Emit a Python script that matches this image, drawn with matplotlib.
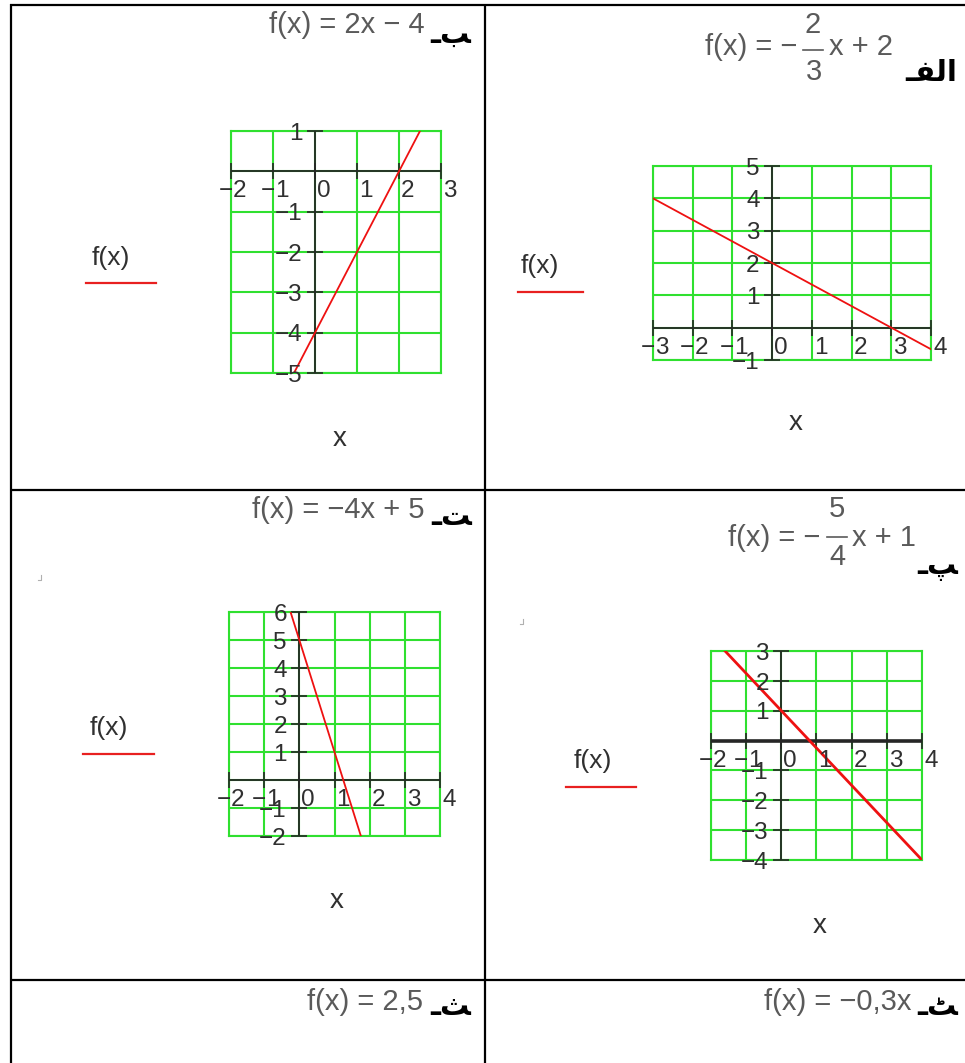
import matplotlib.pyplot as plt

plt.rcParams['font.family'] = ['Liberation Sans', 'DejaVu Sans']

W, H = 965, 1063
GREEN = '#2fe02f'
AXC = '#262626'
TXT = '#303030'
GRAY = '#5a5a5a'

# panel "alef": f(x) = -2/3 x + 2
alef_x = [-3, 4]
alef_y = [4, -0.667]
alef_xlim = (-3, 4)
alef_ylim = (-1, 5)
alef_xlabels = [-3, -2, -1, 0, 1, 2, 3, 4]
alef_ylabels = [5, 4, 3, 2, 1, -1]

# panel "be": f(x) = 2x - 4
be_x = [-0.5, 2.5]
be_y = [-5, 1]
be_xlim = (-2, 3)
be_ylim = (-5, 1)
be_xlabels = [-2, -1, 0, 1, 2, 3]
be_ylabels = [1, -1, -2, -3, -4, -5]

# panel "pe": f(x) = -5/4 x + 1
pe_x = [-1.6, 4]
pe_y = [3, -4]
pe_xlim = (-2, 4)
pe_ylim = (-4, 3)
pe_xlabels = [-2, -1, 0, 1, 2, 3, 4]
pe_ylabels = [3, 2, 1, -1, -2, -3, -4]

# panel "te": f(x) = -4x + 5
te_x = [-0.25, 1.75]
te_y = [6, -2]
te_xlim = (-2, 4)
te_ylim = (-2, 6)
te_xlabels = [-2, -1, 0, 1, 2, 3, 4]
te_ylabels = [6, 5, 4, 3, 2, 1, -1, -2]

fig = plt.figure(figsize=(W / 100, H / 100), dpi=100)
bg = fig.add_axes([0, 0, 1, 1])
bg.set_xlim(0, W)
bg.set_ylim(H, 0)
bg.axis('off')

# table borders
tk = dict(color='black', lw=1.6, solid_capstyle='butt')
bg.plot([10, 965], [4.5, 4.5], **tk)
bg.plot([10.5, 10.5], [4, 1063], **tk)
bg.plot([484.5, 484.5], [4, 1063], **tk)
bg.plot([10, 965], [489.5, 489.5], **tk)
bg.plot([10, 965], [979.5, 979.5], **tk)

# little stray corner marks
for cx, cy in [(41, 580), (523, 624)]:
    bg.plot([cx - 3, cx, cx], [cy, cy, cy - 5], color='#b0b0b0', lw=0.8)


def minus(v):
    return str(v).replace('-', '\u2212')


def panel(box, xs, ys, xlim, ylim, xlabels, ylabels, axis_lw=1.3, line_lw=1.3):
    l, t, r, b = box
    ax = fig.add_axes([l / W, 1 - b / H, (r - l) / W, (b - t) / H])
    ax.set_xlim(*xlim)
    ax.set_ylim(*ylim)
    ax.set_xticks(range(xlim[0], xlim[1] + 1))
    ax.set_yticks(range(ylim[0], ylim[1] + 1))
    ax.grid(True, color=GREEN, lw=1.5)
    ax.tick_params(length=0, labelbottom=False, labelleft=False)
    for s in ax.spines.values():
        s.set_color(GREEN)
        s.set_linewidth(1.5)
    ax.set_facecolor('none')
    ax.axhline(0, color=AXC, lw=axis_lw, zorder=3)
    ax.axvline(0, color=AXC, lw=1.3, zorder=3)
    ax.plot(xlabels, [0] * len(xlabels), ls='none', marker='|', ms=11,
            mew=1.2, color=AXC, clip_on=False, zorder=3)
    ax.plot([0] * len(ylabels), ylabels, ls='none', marker='_', ms=11,
            mew=1.2, color=AXC, clip_on=False, zorder=3)
    ax.plot(xs, ys, color='#ee1111', lw=line_lw, zorder=4)
    fs = 17.5
    for v in xlabels:
        ax.annotate(str(abs(v)), (v, 0), xytext=(1.5, -6.5), textcoords='offset points',
                    ha='left', va='top', fontsize=fs, color=TXT,
                    annotation_clip=False, zorder=5)
        if v < 0:
            ax.annotate('\u2212', (v, 0), xytext=(1.2, -6.5), textcoords='offset points',
                        ha='right', va='top', fontsize=fs, color=TXT,
                        annotation_clip=False, zorder=5)
    for v in ylabels:
        ax.annotate(minus(v), (0, v), xytext=(-9, -2), textcoords='offset points',
                    ha='right', va='center', fontsize=fs, color=TXT,
                    annotation_clip=False, zorder=5)
    return ax


panel((231, 131, 441, 373), be_x, be_y, be_xlim, be_ylim, be_xlabels, be_ylabels)
panel((653, 166, 931, 360), alef_x, alef_y, alef_xlim, alef_ylim, alef_xlabels, alef_ylabels)
panel((229, 612, 440, 836), te_x, te_y, te_xlim, te_ylim, te_xlabels, te_ylabels)
panel((711, 651, 922, 860), pe_x, pe_y, pe_xlim, pe_ylim, pe_xlabels, pe_ylabels,
      axis_lw=2.6, line_lw=2.0)

# legends and x labels
for tx, ty, lx0, lx1, ly in [(111, 258, 86, 156, 283), (540, 266, 518, 583, 292),
                             (109, 728, 83, 154, 754), (593, 761, 566, 636, 787)]:
    bg.text(tx, ty, 'f(x)', fontsize=19, color=TXT, ha='center', va='center')
    bg.plot([lx0, lx1], [ly, ly], color='#e82020', lw=1.6)

for xx, xy in [(340, 439), (796, 423), (337, 901), (820, 926)]:
    bg.text(xx, xy, 'x', fontsize=20, color=TXT, ha='center', va='center')

# titles
tf = dict(fontsize=21, color=GRAY, va='center')
bg.text(425, 25, 'f(x) = 2x \u2212 4', ha='right', **tf)
bg.text(425, 510, 'f(x) = \u22124x + 5', ha='right', **tf)
bg.text(423, 1002, 'f(x) = 2,5', ha='right', **tf)
bg.text(912, 1002, 'f(x) = \u22120,3x', ha='right', **tf)

# fraction titles
bg.text(797, 47, 'f(x) = \u2212', ha='right', **tf)
bg.text(813, 25, '2', ha='center', **tf)
bg.plot([803, 823], [50, 50], color=GRAY, lw=1.2)
bg.text(814, 72, '3', ha='center', **tf)
bg.text(829, 47, 'x + 2', ha='left', **tf)

bg.text(820, 538, 'f(x) = \u2212', ha='right', **tf)
bg.text(837, 509, '5', ha='center', **tf)
bg.plot([827, 847], [537, 537], color=GRAY, lw=1.2)
bg.text(837, 557, '4', ha='center', **tf)
bg.text(852, 538, 'x + 1', ha='left', **tf)

# Arabic item letters
af = dict(fontsize=21, fontweight='bold', color='black', ha='right', va='baseline',
          family=['DejaVu Sans'])
bg.text(471, 43, '\u0640\ufe90', **af)
bg.text(957, 81, '\u0640\ufed4\ufedf\ufe8d', **af)
bg.text(472, 525, '\u0640\ufe96', **af)
bg.text(958, 574, '\u0640\ufb57', **af)
bg.text(471, 1015, '\u0640\ufe9a', **af)
bg.text(958, 1015, '\u0640\ufb67', **af)

fig.savefig('out.png', dpi=100)
